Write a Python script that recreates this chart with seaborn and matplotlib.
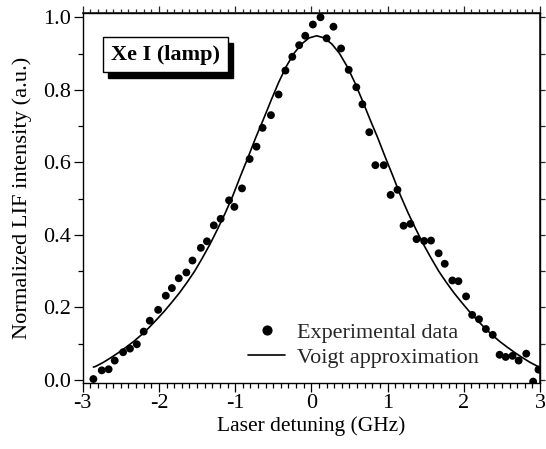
import matplotlib
matplotlib.use("Agg")
import matplotlib.pyplot as plt
import seaborn as sns
import pandas as pd
from matplotlib.ticker import MultipleLocator
from matplotlib.lines import Line2D
from matplotlib.patches import Rectangle

# ---- data ----
exp_x = [-2.86, -2.75, -2.66, -2.58, -2.47, -2.38, -2.29, -2.20, -2.12, -2.01,
         -1.91, -1.83, -1.74, -1.64, -1.56, -1.45, -1.37, -1.28, -1.19, -1.08,
         -1.01, -0.91, -0.81, -0.72, -0.64, -0.53, -0.43, -0.34, -0.25, -0.16,
         -0.08, 0.02, 0.12, 0.20, 0.29, 0.39, 0.49, 0.59, 0.67, 0.76,
         0.84, 0.95, 1.04, 1.13, 1.21, 1.30, 1.38, 1.48, 1.57, 1.67,
         1.75, 1.85, 1.93, 2.03, 2.11, 2.20, 2.29, 2.38, 2.47, 2.55,
         2.64, 2.72, 2.82, 2.91, 2.98]
exp_y = [0.002, 0.026, 0.029, 0.053, 0.076, 0.086, 0.098, 0.133, 0.163, 0.193,
         0.232, 0.253, 0.280, 0.296, 0.329, 0.364, 0.382, 0.426, 0.444, 0.495,
         0.477, 0.528, 0.609, 0.643, 0.695, 0.730, 0.787, 0.853, 0.891, 0.923,
         0.949, 0.980, 1.000, 0.942, 0.974, 0.914, 0.855, 0.807, 0.760, 0.683,
         0.592, 0.592, 0.510, 0.524, 0.425, 0.430, 0.388, 0.383, 0.384, 0.349,
         0.320, 0.274, 0.272, 0.230, 0.179, 0.167, 0.140, 0.124, 0.069, 0.063,
         0.066, 0.053, 0.072, -0.005, 0.028]

fit_x = [-2.86, -2.83, -2.73, -2.63, -2.53, -2.43, -2.33, -2.23, -2.13, -2.03,
         -1.93, -1.83, -1.73, -1.63, -1.53, -1.43, -1.33, -1.23, -1.13, -1.03,
         -0.93, -0.83, -0.73, -0.63, -0.53, -0.43, -0.33, -0.23, -0.13, -0.03,
         0.07, 0.17, 0.27, 0.37, 0.47, 0.57, 0.67, 0.77, 0.87, 0.97,
         1.07, 1.17, 1.27, 1.37, 1.47, 1.57, 1.67, 1.77, 1.87, 1.97,
         2.07, 2.17, 2.27, 2.37, 2.47, 2.57, 2.67, 2.77, 2.87, 2.97, 3.00]
fit_y = [0.035, 0.037, 0.048, 0.061, 0.075, 0.090, 0.106, 0.124, 0.144, 0.166,
         0.189, 0.214, 0.240, 0.269, 0.300, 0.336, 0.374, 0.416, 0.460, 0.508,
         0.562, 0.614, 0.668, 0.718, 0.770, 0.820, 0.864, 0.900, 0.926, 0.943,
         0.949, 0.943, 0.926, 0.900, 0.864, 0.820, 0.770, 0.718, 0.668, 0.614,
         0.562, 0.508, 0.460, 0.416, 0.374, 0.336, 0.300, 0.269, 0.240, 0.214,
         0.189, 0.166, 0.144, 0.124, 0.106, 0.090, 0.075, 0.061, 0.048, 0.037, 0.034]

x_ticks = [-3, -2, -1, 0, 1, 2, 3]
y_ticks = [0.0, 0.2, 0.4, 0.6, 0.8, 1.0]
x_label = "Laser detuning (GHz)"
y_label = "Normalized LIF intensity (a.u.)"
legend_labels = ["Experimental data", "Voigt approximation"]
panel_label = "Xe I (lamp)"

sns.set_theme(style="ticks")
plt.rcParams["font.family"] = ["Liberation Serif", "DejaVu Serif"]
plt.rcParams["axes.unicode_minus"] = False

df_exp = pd.DataFrame({"x": exp_x, "y": exp_y})
df_fit = pd.DataFrame({"x": fit_x, "y": fit_y})

fig = plt.figure(figsize=(5.46, 4.49), dpi=100)
ax = fig.add_axes([0.1515, 0.1477, 0.8375, 0.8227])
fig.patch.set_facecolor("white")
ax.set_facecolor("white")

sns.lineplot(data=df_fit, x="x", y="y", ax=ax, color="black", lw=1.2, sort=False)
sns.scatterplot(data=df_exp, x="x", y="y", ax=ax, color="black", s=32,
                edgecolor="none", linewidth=0)

ax.set_xlim(-3, 3)
ax.set_ylim(-0.008, 1.011)
ax.set_xticks(x_ticks)
ax.set_xticklabels([str(t) for t in x_ticks])
ax.set_yticks(y_ticks)
ax.set_yticklabels([f"{t:.1f}" for t in y_ticks])
ax.xaxis.set_minor_locator(MultipleLocator(0.1))
ax.yaxis.set_minor_locator(MultipleLocator(0.1))
ax.tick_params(which="major", direction="out", length=6.5, width=0.9,
               labelsize=16, color="black", labelcolor="black", pad=2)
ax.tick_params(which="minor", direction="out", length=3.5, width=0.9, color="black")
for s in ax.spines.values():
    s.set_visible(True)
    s.set_linewidth(1.0)
    s.set_color("black")

secx = ax.secondary_xaxis("top")
secx.set_xticks(x_ticks)
secx.xaxis.set_minor_locator(MultipleLocator(0.1))
secx.tick_params(which="major", direction="out", length=5, width=0.9, labeltop=False)
secx.tick_params(which="minor", direction="out", length=3, width=0.9)
secx.set_xticklabels([])
secy = ax.secondary_yaxis("right")
secy.set_yticks(y_ticks)
secy.yaxis.set_minor_locator(MultipleLocator(0.1))
secy.tick_params(which="both", direction="out", length=3.5, width=0.9, labelright=False)
secy.set_yticklabels([])

ax.set_xlabel(x_label, fontsize=15.5, color="black", labelpad=2)
ax.set_ylabel(y_label, fontsize=16.2, color="black", labelpad=8)

# panel label box with shadow
ax.add_patch(Rectangle((0.055, 0.825), 0.273, 0.095, transform=ax.transAxes,
                       facecolor="black", edgecolor="black", lw=1, zorder=4))
ax.add_patch(Rectangle((0.044, 0.841), 0.273, 0.095, transform=ax.transAxes,
                       facecolor="white", edgecolor="black", lw=1, zorder=5))
ax.text(0.1805, 0.886, panel_label, transform=ax.transAxes, ha="center", va="center",
        fontsize=16, fontweight="bold", color="black", zorder=6)

handles = [Line2D([], [], marker="o", ls="none", color="black", markersize=6.3),
           Line2D([], [], color="black", lw=1.2)]
ax.legend(handles, legend_labels, loc="center left", bbox_to_anchor=(0.342, 0.102),
          frameon=False, fontsize=15.9, handlelength=1.7, handletextpad=0.5,
          labelspacing=0.2, borderaxespad=0.0)

fig.savefig("out.png", dpi=100, facecolor="white")
